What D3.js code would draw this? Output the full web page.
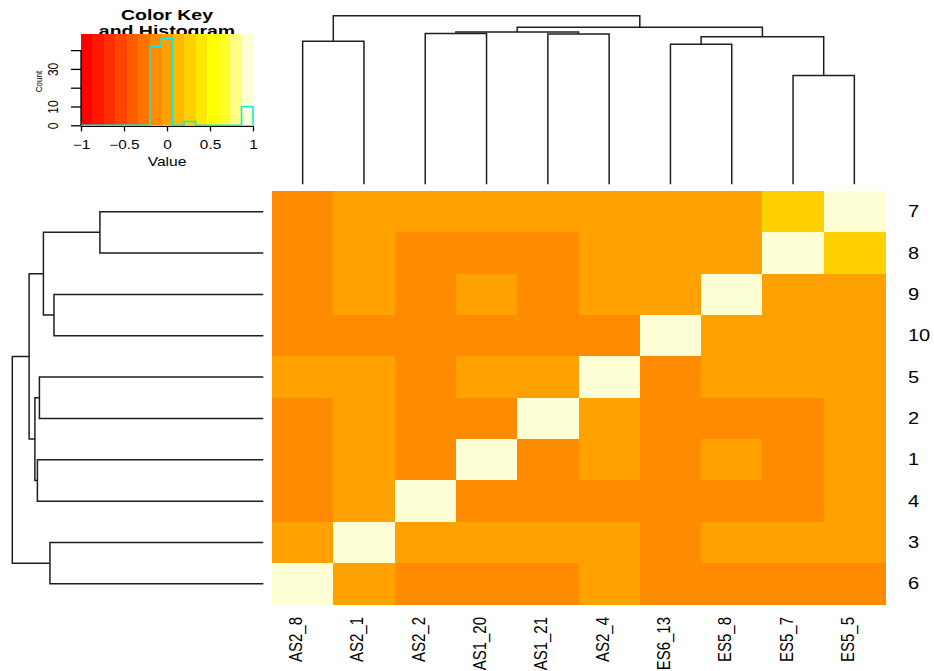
<!DOCTYPE html>
<html>
<head>
<meta charset="utf-8">
<script src="https://cdn.jsdelivr.net/npm/d3@7/dist/d3.min.js"></script>
<style>
  body { margin: 0; background: #fff; }
  svg { display: block; }
  text { font-family: "Liberation Sans", Arial, Helvetica, sans-serif; fill: #000; }
</style>
</head>
<body>
<svg id="chart" width="934" height="671"></svg>
<script>
// ---- data -------------------------------------------------------------
const colLabels = ["AS2_8", "AS2_1", "AS2_2", "AS1_20", "AS1_21", "AS2_4", "ES6_13", "ES5_8", "ES5_7", "ES5_5"];
const rowLabels = ["7", "8", "9", "10", "5", "2", "1", "4", "3", "6"];

// correlation values, rows top to bottom, columns left to right
const values = [
  [-0.13, 0.00, 0.00, 0.00, 0.00, 0.00, 0.00, 0.00, 0.27, 1.00],
  [-0.13, 0.00, -0.13, -0.13, -0.13, 0.00, 0.00, 0.00, 1.00, 0.27],
  [-0.13, 0.00, -0.13, 0.00, -0.13, 0.00, 0.00, 1.00, 0.00, 0.00],
  [-0.13, -0.13, -0.13, -0.13, -0.13, -0.13, 1.00, 0.00, 0.00, 0.00],
  [0.00, 0.00, -0.13, 0.00, 0.00, 1.00, -0.13, 0.00, 0.00, 0.00],
  [-0.13, 0.00, -0.13, -0.13, 1.00, 0.00, -0.13, -0.13, -0.13, 0.00],
  [-0.13, 0.00, -0.13, 1.00, -0.13, 0.00, -0.13, 0.00, -0.13, 0.00],
  [-0.13, 0.00, 1.00, -0.13, -0.13, -0.13, -0.13, -0.13, -0.13, 0.00],
  [0.00, 1.00, 0.00, 0.00, 0.00, 0.00, -0.13, 0.00, 0.00, 0.00],
  [1.00, 0.00, -0.13, -0.13, -0.13, 0.00, -0.13, -0.13, -0.13, -0.13]
];

// cluster trees: [merge height, left child, right child]
const colTree = [10.0,
  [8.48, "AS2_8", "AS2_1"],
  [9.31,
    [9.03, [8.95, "AS2_2", "AS1_20"], [8.91, "AS1_21", "AS2_4"]],
    [8.75, [8.30, "ES6_13", "ES5_8"], [6.46, "ES5_7", "ES5_5"]]]];
const rowTree = [10.0,
  [9.33,
    [8.76, [6.51, "7", "8"], [8.34, "9", "10"]],
    [9.10, [8.92, "5", "2"], [9.00, "1", "4"]]],
  [8.50, "3", "6"]];

const keyTicks = [-1, -0.5, 0, 0.5, 1];
const keyTickLabels = ["\u22121", "\u22120.5", "0", "0.5", "1"];
const countTicks = [0, 10, 20, 30, 40];
const countTickLabels = ["0", "10", "", "30", ""];

// heat colours, 15 bins over [-1, 1]
const heatPalette = ["#FF0000", "#FF1700", "#FF2E00", "#FF4600", "#FF5D00", "#FF7400",
  "#FF8B00", "#FFA200", "#FFB900", "#FFD100", "#FFE800", "#FFFF00",
  "#FFFF2A", "#FFFF80", "#FFFFD5"];
const breaks = d3.range(heatPalette.length + 1).map(k => -1 + 2 * k / heatPalette.length);

// ---- layout -----------------------------------------------------------
const svg = d3.select("#chart");
const hm = { x0: 272, x1: 885, y0: 191, y1: 604.5 };
const color = d3.scaleThreshold().domain(breaks.slice(1, -1)).range(heatPalette);

const xBand = d3.scaleBand().domain(colLabels).range([hm.x0, hm.x1]).padding(0);
const yBand = d3.scaleBand().domain(rowLabels).range([hm.y0, hm.y1]).padding(0);

// ---- heatmap cells ----------------------------------------------------
const cells = [];
values.forEach((row, i) => row.forEach((v, j) => cells.push({ r: rowLabels[i], c: colLabels[j], v })));
svg.append("g").attr("shape-rendering", "crispEdges")
  .selectAll("rect").data(cells).join("rect")
  .attr("x", d => xBand(d.c))
  .attr("y", d => yBand(d.r))
  .attr("width", xBand.bandwidth() + 0.5)
  .attr("height", yBand.bandwidth() + 0.5)
  .attr("fill", d => color(d.v));

// ---- labels -----------------------------------------------------------
svg.append("g").selectAll("text").data(colLabels).join("text")
  .attr("transform", d => `translate(${xBand(d) + xBand.bandwidth() / 2 - 0.5},617) rotate(-90) scale(1,1.26)`)
  .attr("text-anchor", "end")
  .style("font-size", "15px")
  .text(d => d);

svg.append("g").selectAll("text").data(rowLabels).join("text")
  .attr("transform", d => `translate(908,${yBand(d) + yBand.bandwidth() / 2 + 5.5}) scale(1.25,1)`)
  .attr("text-anchor", "start")
  .style("font-size", "16px")
  .text(d => d);

// ---- dendrograms ------------------------------------------------------
function layoutTree(tree, leafPos) {
  const root = d3.hierarchy(tree, d => Array.isArray(d) ? d.slice(1) : null);
  root.eachAfter(n => {
    if (n.children) { n.h = n.data[0]; n.p = d3.mean(n.children, c => c.p); }
    else { n.h = 0; n.p = leafPos(n.data); }
  });
  return root;
}

const colRoot = layoutTree(colTree, d => xBand(d) + xBand.bandwidth() / 2);
const colH = d3.scaleLinear().domain([0, 10]).range([184.3, 15.7]);
const colSegs = colRoot.descendants().filter(n => n.children);
svg.append("g").attr("fill", "none").attr("stroke", "#1e1e1e").attr("stroke-width", 1.5)
  .selectAll("path").data(colSegs).join("path")
  .attr("d", n => {
    const [a, b] = n.children;
    return `M${a.p},${colH(a.h)}V${colH(n.h)}H${b.p}V${colH(b.h)}`;
  });

const rowRoot = layoutTree(rowTree, d => yBand(d) + yBand.bandwidth() / 2);
const rowH = d3.scaleLinear().domain([0, 10]).range([263.3, 12.3]);
const rowSegs = rowRoot.descendants().filter(n => n.children);
svg.append("g").attr("fill", "none").attr("stroke", "#1e1e1e").attr("stroke-width", 1.5)
  .selectAll("path").data(rowSegs).join("path")
  .attr("d", n => {
    const [a, b] = n.children;
    return `M${rowH(a.h)},${a.p}H${rowH(n.h)}V${b.p}H${rowH(b.h)}`;
  });

// ---- colour key and histogram -----------------------------------------
const key = { x0: 81, x1: 253, y0: 34.3, y1: 125.3 };
const keyX = d3.scaleLinear().domain([-1, 1]).range([key.x0, key.x1]);

const title = svg.append("g").style("font-size", "15px").style("font-weight", "bold");
title.append("text").attr("transform", "translate(167,20) scale(1.3,1)")
  .attr("text-anchor", "middle").text("Color Key");
title.append("text").attr("transform", "translate(167,35.6) scale(1.3,1)")
  .attr("text-anchor", "middle").text("and Histogram");

svg.append("g").attr("shape-rendering", "crispEdges")
  .selectAll("rect").data(heatPalette).join("rect")
  .attr("x", (d, i) => keyX(breaks[i]))
  .attr("y", key.y0)
  .attr("width", (d, i) => keyX(breaks[i + 1]) - keyX(breaks[i]) + 0.4)
  .attr("height", key.y1 - key.y0)
  .attr("fill", d => d);

// histogram of all cell values on the same breaks
const bins = d3.bin().domain([-1, 1]).thresholds(breaks.slice(1, -1))(values.flat());
const counts = bins.map(b => b.length);
const maxCount = d3.max(counts);
const yCount = d3.scaleLinear().domain([0, maxCount / 0.95]).range([key.y1, key.y0]);

// x axis
const xAxis = svg.append("g").attr("transform", `translate(0,${key.y1 + 0.6})`)
  .call(d3.axisBottom(keyX).tickValues(keyTicks).tickFormat((d, i) => keyTickLabels[i])
    .tickSize(5.5).tickSizeOuter(0));
xAxis.select(".domain").attr("stroke", "#000").attr("stroke-width", 1.3);
xAxis.selectAll(".tick line").attr("stroke", "#000").attr("stroke-width", 1.3);
xAxis.selectAll(".tick text")
  .attr("y", null).attr("dy", null)
  .attr("transform", "translate(0,23.5) scale(1.28,1)")
  .attr("fill", "#111")
  .style("font-size", "12px").style("font-family", "'Liberation Sans', Arial, sans-serif");

svg.append("text").attr("transform", "translate(167,166) scale(1.3,1)")
  .attr("text-anchor", "middle").style("font-size", "12px").attr("fill", "#111").text("Value");

// step outline of the histogram
const stepPts = breaks.map((b, i) => [b, counts[Math.min(i, counts.length - 1)]]);
stepPts.push([1, 0]);
svg.append("path").datum(stepPts)
  .attr("fill", "none").attr("stroke", "#00F0F0").attr("stroke-width", 1.6)
  .attr("d", d3.line().x(d => keyX(d[0])).y(d => yCount(d[1])).curve(d3.curveStepAfter));

// count axis
const yAxis = svg.append("g").attr("transform", `translate(${key.x0},0)`)
  .call(d3.axisLeft(yCount).tickValues(countTicks).tickFormat((d, i) => countTickLabels[i])
    .tickSize(10).tickSizeOuter(0));
yAxis.select(".domain").remove();
yAxis.append("line")
  .attr("x1", 0).attr("x2", 0)
  .attr("y1", yCount(countTicks[0])).attr("y2", yCount(countTicks[countTicks.length - 1]))
  .attr("stroke", "#000").attr("stroke-width", 1.3);
yAxis.selectAll(".tick line").attr("stroke", "#000").attr("stroke-width", 1.3);
yAxis.selectAll(".tick text")
  .attr("x", null).attr("dy", null)
  .attr("text-anchor", "middle")
  .attr("transform", "translate(-23.5,0) rotate(-90) scale(1,1.2)")
  .attr("fill", "#111")
  .style("font-size", "12px").style("font-family", "'Liberation Sans', Arial, sans-serif");

svg.append("text").attr("transform", "translate(41.7,81.5) rotate(-90) scale(1,1.2)")
  .attr("text-anchor", "middle").style("font-size", "8px").attr("fill", "#555").text("Count");
</script>
</body>
</html>
